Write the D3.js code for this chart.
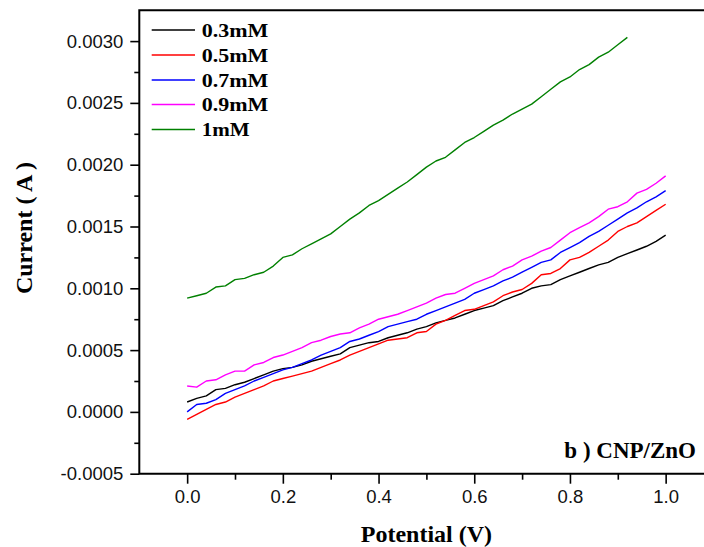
<!DOCTYPE html>
<html><head><meta charset="utf-8">
<script src="https://cdn.jsdelivr.net/npm/d3@7"></script>
<style>body{margin:0;background:#fff;overflow:hidden} svg{display:block}</style>
</head><body><svg id="c" width="704" height="547"></svg>
<script>
// ---- data ----
const potential = [0,0.02,0.04,0.06,0.08,0.10,0.12,0.14,0.16,0.18,0.20,0.22,0.24,0.26,0.28,0.30,0.32,0.34,0.36,0.38,0.40,0.42,0.44,0.46,0.48,0.50,0.52,0.54,0.56,0.58,0.60,0.62,0.64,0.66,0.68,0.70,0.72,0.74,0.76,0.78,0.80,0.82,0.84,0.86,0.88,0.90,0.92,0.94,0.96,0.98,1.00];
const seriesNames = ["0.3mM","0.5mM","0.7mM","0.9mM","1mM"];
const seriesColors = ["#000000","#ff0000","#0000ff","#ff00ff","#008000"];
const c03 = [0.00008,0.00011,0.00013,0.00018,0.00019,0.00022,0.00024,0.00027,0.00030,0.00033,0.00035,0.00036,0.00038,0.00041,0.00043,0.00045,0.00047,0.00052,0.00054,0.00056,0.00057,0.00060,0.00062,0.00064,0.00067,0.00069,0.00072,0.00074,0.00076,0.00079,0.00082,0.00084,0.00086,0.00090,0.00093,0.00096,0.00100,0.00102,0.00103,0.00107,0.00110,0.00113,0.00116,0.00119,0.00121,0.00125,0.00128,0.00131,0.00134,0.00138,0.00143];
const c05 = [-0.00006,-0.00002,0.00002,0.00006,0.00008,0.00012,0.00015,0.00018,0.00021,0.00025,0.00027,0.00029,0.00031,0.00033,0.00036,0.00039,0.00042,0.00046,0.00049,0.00052,0.00055,0.00058,0.00059,0.00060,0.00064,0.00065,0.00071,0.00074,0.00078,0.00082,0.00083,0.00086,0.00089,0.00094,0.00097,0.00099,0.00104,0.00111,0.00112,0.00116,0.00123,0.00125,0.00129,0.00134,0.00139,0.00146,0.00150,0.00153,0.00158,0.00163,0.00168];
const c07 = [0.00000,0.00006,0.00007,0.00010,0.00015,0.00018,0.00021,0.00025,0.00028,0.00031,0.00034,0.00036,0.00039,0.00042,0.00046,0.00049,0.00052,0.00057,0.00059,0.00062,0.00065,0.00069,0.00071,0.00073,0.00075,0.00079,0.00082,0.00085,0.00088,0.00091,0.00096,0.00099,0.00102,0.00106,0.00109,0.00113,0.00117,0.00121,0.00123,0.00129,0.00133,0.00137,0.00142,0.00146,0.00151,0.00156,0.00161,0.00165,0.00170,0.00174,0.00179];
const c09 = [0.00021,0.00020,0.00025,0.00026,0.00030,0.00033,0.00033,0.00038,0.00040,0.00044,0.00046,0.00049,0.00052,0.00056,0.00058,0.00061,0.00063,0.00064,0.00068,0.00071,0.00075,0.00077,0.00079,0.00082,0.00085,0.00088,0.00092,0.00095,0.00096,0.00100,0.00104,0.00107,0.00110,0.00115,0.00118,0.00123,0.00126,0.00130,0.00133,0.00139,0.00145,0.00149,0.00153,0.00158,0.00164,0.00166,0.00170,0.00177,0.00180,0.00185,0.00191];
const c10 = [0.00092,0.00094,0.00096,0.00101,0.00102,0.00107,0.00108,0.00111,0.00113,0.00118,0.00125,0.00127,0.00132,0.00136,0.00140,0.00144,0.00150,0.00156,0.00161,0.00167,0.00171,0.00176,0.00181,0.00186,0.00192,0.00198,0.00203,0.00206,0.00212,0.00218,0.00222,0.00227,0.00232,0.00236,0.00241,0.00245,0.00249,0.00255,0.00261,0.00267,0.00271,0.00277,0.00281,0.00287,0.00291,0.00297,0.00303];
const seriesValues = [c03,c05,c07,c09,c10];
const xTicks = [0,0.2,0.4,0.6,0.8,1.0];
const xMinorTicks = [0.1,0.3,0.5,0.7,0.9];
const yTicks = [-0.0005,0,0.0005,0.0010,0.0015,0.0020,0.0025,0.0030];
const yMinorTicks = [-0.00025,0.00025,0.00075,0.00125,0.00175,0.00225,0.00275];

// ---- layout ----
const svg = d3.select("#c");
const L = 139.3, R = 713.5, T = 10.2, B = 473.7;
const x = d3.scaleLinear().domain([-0.1,1.1]).range([L,R]);
const y = d3.scaleLinear().domain([-0.0005,0.00325]).range([B,T]);
const sansFont = "'Liberation Sans', Arial, sans-serif";
const serifFont = "'Liberation Serif', 'Times New Roman', serif";

// axes
const gy = svg.append("g").attr("transform",`translate(${L},0)`)
  .call(d3.axisLeft(y).tickValues(yTicks).tickSize(9).tickPadding(7).tickFormat(d=>d.toFixed(4)));
const gy2 = svg.append("g").attr("transform",`translate(${L},0)`)
  .call(d3.axisLeft(y).tickValues(yMinorTicks).tickSize(5).tickFormat(""));
const gx = svg.append("g").attr("transform",`translate(0,${B})`)
  .call(d3.axisBottom(x).tickValues(xTicks).tickSize(10).tickPadding(6).tickFormat(d=>d.toFixed(1)));
const gx2 = svg.append("g").attr("transform",`translate(0,${B})`)
  .call(d3.axisBottom(x).tickValues(xMinorTicks).tickSize(6).tickFormat(""));
[gy,gy2,gx,gx2].forEach(g=>{
  g.select(".domain").remove();
  g.selectAll(".tick line").attr("stroke","#000").attr("stroke-width",1.6);
  g.selectAll("text").attr("font-family",sansFont).attr("font-size","18.5px").attr("fill","#111");
});

// frame (right side lies outside the window)
svg.append("path")
  .attr("d",`M${R},${T}H${L}V${B}H${R}`)
  .attr("fill","none").attr("stroke","#000").attr("stroke-width",2);

// lines
const line = d3.line().x((d,i)=>x(potential[i])).y(d=>y(d));
seriesValues.forEach((vals,k)=>{
  svg.append("path").datum(vals)
    .attr("d",line)
    .attr("fill","none")
    .attr("stroke",seriesColors[k])
    .attr("stroke-width",1.4)
    .attr("stroke-linejoin","round");
});

// legend
const legY = [30,55,80,104.5,129.5];
seriesNames.forEach((n,k)=>{
  svg.append("line").attr("x1",151.7).attr("x2",195).attr("y1",legY[k]).attr("y2",legY[k])
    .attr("stroke",seriesColors[k]).attr("stroke-width",1.4);
  svg.append("text").attr("x",201.7).attr("y",legY[k]+6.5)
    .attr("font-family",serifFont).attr("font-weight","bold").attr("font-size","19px")
    .attr("textLength", n.length===5 ? 66.6 : 48).attr("lengthAdjust","spacingAndGlyphs")
    .text(n);
});

// annotation
svg.append("text").attr("x",696).attr("y",458.3).attr("text-anchor","end")
  .attr("font-family",serifFont).attr("font-weight","bold").attr("font-size","23px")
  .text("b ) CNP/ZnO");

// axis titles
svg.append("text").attr("x",(L+R)/2).attr("y",541.5).attr("text-anchor","middle")
  .attr("font-family",serifFont).attr("font-weight","bold").attr("font-size","24px")
  .text("Potential (V)");
svg.append("text").attr("transform","translate(32,228) rotate(-90)").attr("text-anchor","middle")
  .attr("font-family",serifFont).attr("font-weight","bold").attr("font-size","24px")
  .text("Current ( A )");
</script>
</body></html>
